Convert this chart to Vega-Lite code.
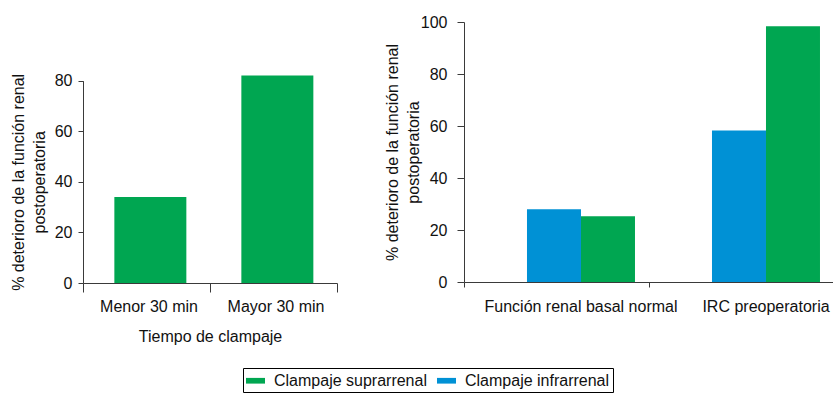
{
  "$schema": "https://vega.github.io/schema/vega-lite/v6.json",
  "padding": {"left": 10, "top": 14, "right": 0, "bottom": 0},
  "background": "white",
  "config": {
    "font": "Liberation Sans",
    "view": {"stroke": null},
    "axis": {
      "labelFont": "Liberation Sans",
      "labelFontSize": 16,
      "labelColor": "#111111",
      "labelLimit": 400,
      "titleFont": "Liberation Sans",
      "titleFontSize": 16,
      "titleFontWeight": "normal",
      "titleColor": "#111111",
      "titleLineHeight": 21,
      "domainColor": "#3a3a3a",
      "tickColor": "#3a3a3a",
      "grid": false
    },
    "legend": {
      "labelFont": "Liberation Sans",
      "labelFontSize": 16,
      "labelColor": "#111111",
      "labelLimit": 400
    }
  },
  "datasets": {
    "tiempo": [
      {"grupo": "Menor 30 min", "tipo": "Clampaje suprarrenal", "valor": 34.0},
      {"grupo": "Mayor 30 min", "tipo": "Clampaje suprarrenal", "valor": 82.1}
    ],
    "funcion": [
      {"grupo": "Función renal basal normal", "tipo": "Clampaje infrarrenal", "valor": 28.0},
      {"grupo": "Función renal basal normal", "tipo": "Clampaje suprarrenal", "valor": 25.3},
      {"grupo": "IRC preoperatoria", "tipo": "Clampaje infrarrenal", "valor": 58.3},
      {"grupo": "IRC preoperatoria", "tipo": "Clampaje suprarrenal", "valor": 98.4}
    ]
  },
  "spacing": 46,
  "resolve": {"scale": {"color": "shared", "x": "independent", "y": "independent", "xOffset": "independent"}},
  "hconcat": [
    {
      "width": 254,
      "height": 261,
      "data": {"name": "tiempo"},
      "mark": {"type": "bar"},
      "encoding": {
        "x": {
          "field": "grupo", "type": "nominal", "sort": ["Menor 30 min", "Mayor 30 min"],
          "scale": {"paddingInner": 0, "paddingOuter": 0},
          "axis": {"title": "Tiempo de clampaje", "labelAngle": 0, "tickBand": "extent", "tickSize": 9, "labelPadding": 6, "labelOffset": 2, "titlePadding": 14}
        },
        "xOffset": {
          "field": "tipo", "type": "nominal",
          "scale": {"domain": ["Clampaje suprarrenal"], "paddingInner": 0, "paddingOuter": 0.382, "align": 0.57}
        },
        "y": {
          "field": "valor", "type": "quantitative",
          "scale": {"domain": [0, 80], "range": [261, 58.7], "nice": false},
          "axis": {"title": ["% deterioro de la función renal", "postoperatoria"], "values": [0, 20, 40, 60, 80], "tickSize": 5, "labelPadding": 6, "titlePadding": 7}
        },
        "color": {
          "field": "tipo", "type": "nominal",
          "scale": {"domain": ["Clampaje suprarrenal", "Clampaje infrarrenal"], "range": ["#00a651", "#0091d5"]},
          "legend": {
            "orient": "none", "legendX": 160, "legendY": 346, "direction": "horizontal", "title": null,
            "strokeColor": "black", "padding": 3, "symbolType": "M-1,-0.3H1V0.3H-1Z", "symbolSize": 361,
            "symbolStrokeWidth": 0, "labelOffset": 9, "columnPadding": 10
          }
        }
      }
    },
    {
      "width": 370,
      "height": 260,
      "data": {"name": "funcion"},
      "mark": {"type": "bar"},
      "encoding": {
        "x": {
          "field": "grupo", "type": "nominal", "sort": ["Función renal basal normal", "IRC preoperatoria"],
          "scale": {"paddingInner": 0, "paddingOuter": 0},
          "axis": {"title": null, "labelAngle": 0, "tickOffset": -92.5, "labelOffset": 116.5, "tickSize": 5, "labelPadding": 11}
        },
        "xOffset": {
          "field": "tipo", "type": "nominal",
          "scale": {"domain": ["Clampaje infrarrenal", "Clampaje suprarrenal"], "paddingInner": 0, "paddingOuter": 0.713, "align": 0.818}
        },
        "y": {
          "field": "valor", "type": "quantitative",
          "scale": {"domain": [0, 100], "nice": false},
          "axis": {"title": ["% deterioro de la función renal", "postoperatoria"], "values": [0, 20, 40, 60, 80, 100], "tickSize": 7, "labelPadding": 10, "titlePadding": -1}
        },
        "color": {
          "field": "tipo", "type": "nominal",
          "scale": {"domain": ["Clampaje suprarrenal", "Clampaje infrarrenal"], "range": ["#00a651", "#0091d5"]},
          "legend": {
            "orient": "none", "legendX": 160, "legendY": 346, "direction": "horizontal", "title": null,
            "strokeColor": "black", "padding": 3, "symbolType": "M-1,-0.3H1V0.3H-1Z", "symbolSize": 361,
            "symbolStrokeWidth": 0, "labelOffset": 9, "columnPadding": 10
          }
        }
      }
    }
  ]
}
